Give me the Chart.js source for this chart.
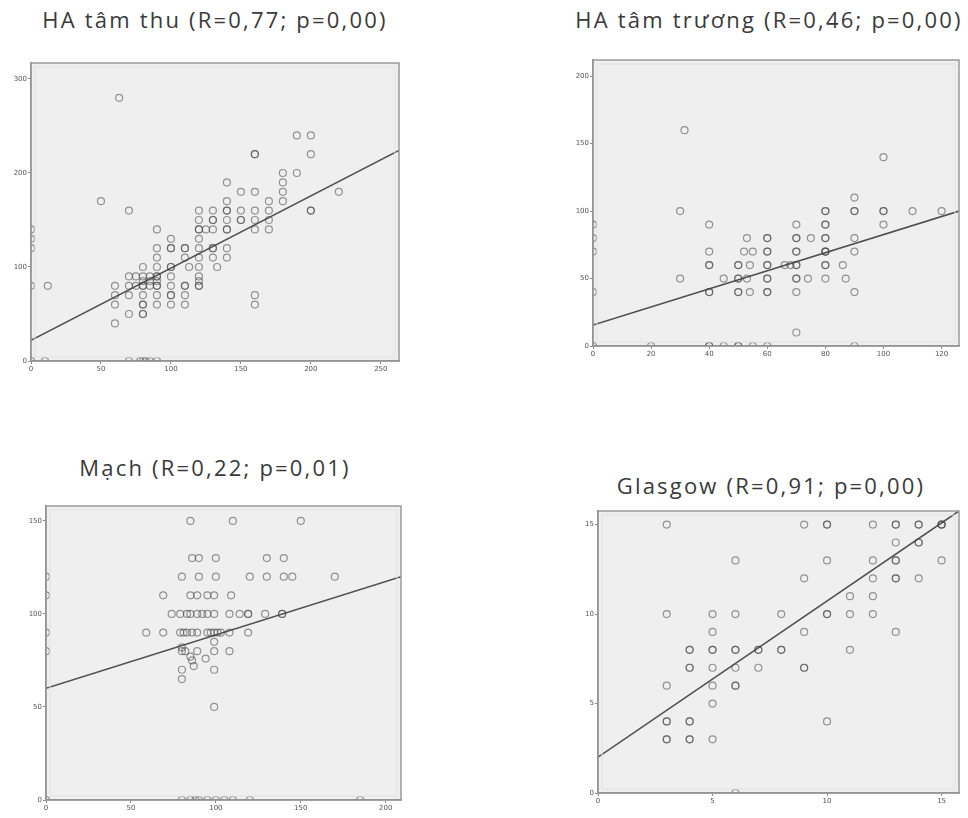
<!DOCTYPE html>
<html>
<head>
<meta charset="utf-8">
<script src="https://cdn.jsdelivr.net/npm/chart.js@4"></script>
<style>
  body { margin: 0; background: #fff; width: 968px; height: 818px; position: relative; overflow: hidden; font-family: "Open Sans", sans-serif; }
  .title { position: absolute; transform: translate(-50%, -50%); white-space: nowrap; font-size: 22px; color: #3a3a3a; letter-spacing: 2.2px; }
  canvas { position: absolute; }
</style>
</head>
<body>
<div id="root"></div>
<script>
// HA tâm thu
const sbpTitle = "HA tâm thu (R=0,77; p=0,00)";
const sbpPoints = [
  [63,280],[190,240],[200,240],[160,220],[160,220],[200,220],[180,200],[190,200],[50,170],[70,160],
  [140,190],[150,180],[160,180],[180,190],[180,180],[180,170],[220,180],[200,160],[200,160],
  [170,170],[170,160],[170,150],[170,140],[160,160],[160,150],[160,140],[150,160],[150,150],[150,150],
  [140,170],[140,160],[140,160],[140,150],[140,140],[140,140],[140,120],[140,110],
  [130,160],[130,150],[130,150],[130,140],[130,120],[130,120],[130,110],[133,100],
  [120,160],[120,150],[120,140],[120,140],[125,140],[120,130],[120,120],[120,110],[120,100],[120,90],[120,80],[120,80],[120,85],
  [110,120],[110,120],[110,110],[113,100],[110,80],[110,80],[110,70],[110,60],
  [100,130],[100,120],[100,120],[100,100],[100,100],[100,90],[100,80],[100,70],[100,70],[100,60],
  [90,140],[90,120],[90,110],[90,100],[90,90],[90,90],[90,85],[90,80],[90,80],[90,70],[90,60],
  [85,90],[85,85],[85,80],[80,100],[80,90],[80,85],[80,80],[80,80],[80,70],[80,60],[80,60],[80,50],[80,50],
  [70,90],[70,80],[70,70],[75,90],[75,80],[70,50],[60,80],[60,70],[60,60],[60,40],[12,80],
  [160,70],[160,60],[0,140],[0,130],[0,120],[0,80],
  [0,0],[10,0],[70,0],[78,0],[80,0],[82,0],[85,0],[90,0]
];
const sbpLine = [[0,22],[263,224]];
const sbpXTicks = [0,50,100,150,200,250];
const sbpYTicks = [0,100,200,300];
const sbpRange = [263,317];

// HA tâm trương
const dbpTitle = "HA tâm trương (R=0,46; p=0,00)";
const dbpPoints = [
  [31.5,160],[100,140],[90,110],[30,100],[80,100],[80,100],[90,100],[90,100],[100,100],[100,100],[110,100],[120,100],
  [40,90],[70,90],[80,90],[80,90],[100,90],
  [53,80],[60,80],[60,80],[70,80],[70,80],[75,80],[80,80],[80,80],[90,80],
  [40,70],[52,70],[55,70],[60,70],[60,70],[70,70],[70,70],[80,70],[80,70],[80,70],[90,70],
  [40,60],[40,60],[50,60],[50,60],[54,60],[60,60],[60,60],[66,60],[68,60],[70,60],[70,60],[80,60],[80,60],[86,60],
  [30,50],[45,50],[50,50],[50,50],[53,50],[60,50],[60,50],[70,50],[70,50],[74,50],[80,50],[87,50],
  [40,40],[40,40],[50,40],[50,40],[54,40],[60,40],[60,40],[70,40],[90,40],
  [70,10],[0,90],[0,80],[0,70],[0,40],
  [0,0],[20,0],[40,0],[40,0],[45,0],[50,0],[50,0],[55,0],[60,0],[90,0]
];
const dbpLine = [[0,15.5],[126,100]];
const dbpXTicks = [0,20,40,60,80,100,120];
const dbpYTicks = [0,50,100,150,200];
const dbpRange = [126,212];

// Mạch
const pulseTitle = "Mạch (R=0,22; p=0,01)";
const pulsePoints = [
  [85,150],[110,150],[150,150],
  [86,130],[90,130],[100,130],[130,130],[140,130],
  [80,120],[90,120],[100,120],[120,120],[130,120],[140,120],[145,120],[170,120],
  [69,110],[85,110],[89,110],[95,110],[99,110],[109,110],
  [74,100],[79,100],[83,100],[85,100],[89,100],[92,100],[95,100],[99,100],[108,100],[114,100],[119,100],[119,100],[129,100],[139,100],[139,100],
  [59,90],[69,90],[79,90],[81,90],[83,90],[86,90],[89,90],[95,90],[97,90],[99,90],[101,90],[103,90],[108,90],[119,90],
  [99,85],[80,82],[80,80],[82,80],[89,80],[99,80],[108,80],
  [85,77],[86,75],[94,76],[87,72],[80,70],[99,70],[80,65],[99,50],
  [0,120],[0,110],[0,90],[0,80],[0,0],
  [80,0],[85,0],[88,0],[90,0],[95,0],[100,0],[105,0],[110,0],[120,0],[185,0]
];
const pulseLine = [[0,60],[209,120]];
const pulseXTicks = [0,50,100,150,200];
const pulseYTicks = [0,50,100,150];
const pulseRange = [209,158];

// Glasgow
const gcsTitle = "Glasgow (R=0,91; p=0,00)";
const gcsPoints = [
  [3,15],[9,15],[10,15],[10,15],[12,15],[13,15],[13,15],[14,15],[14,15],[15,15],[15,15],[15,15],
  [13,14],[14,14],[14,14],
  [6,13],[10,13],[12,13],[13,13],[13,13],[15,13],
  [9,12],[12,12],[13,12],[13,12],[14,12],
  [11,11],[12,11],
  [3,10],[5,10],[6,10],[8,10],[10,10],[10,10],[11,10],[12,10],
  [5,9],[9,9],[13,9],
  [4,8],[4,8],[5,8],[5,8],[6,8],[6,8],[7,8],[7,8],[8,8],[8,8],[11,8],
  [4,7],[4,7],[5,7],[6,7],[7,7],[9,7],[9,7],
  [3,6],[5,6],[6,6],[6,6],[5,5],
  [3,4],[3,4],[4,4],[4,4],[10,4],
  [3,3],[3,3],[4,3],[4,3],[5,3],[6,0]
];
const gcsLine = [[0,2],[15.76,15.76]];
const gcsXTicks = [0,5,10,15];
const gcsYTicks = [0,5,10,15];
const gcsRange = [15.76,15.76];

// plot boxes in page pixels: left, top, right, bottom; title centre
const layout = [
  { box: [31, 63, 399, 361], title: [215, 19] },
  { box: [593, 60, 959, 346], title: [769, 19] },
  { box: [46, 506, 401, 800], title: [215, 467] },
  { box: [598, 511, 959, 793], title: [771, 485] }
];

const panels = [
  { title: sbpTitle, points: sbpPoints, line: sbpLine, xt: sbpXTicks, yt: sbpYTicks, range: sbpRange },
  { title: dbpTitle, points: dbpPoints, line: dbpLine, xt: dbpXTicks, yt: dbpYTicks, range: dbpRange },
  { title: pulseTitle, points: pulsePoints, line: pulseLine, xt: pulseXTicks, yt: pulseYTicks, range: pulseRange },
  { title: gcsTitle, points: gcsPoints, line: gcsLine, xt: gcsXTicks, yt: gcsYTicks, range: gcsRange }
];

const YAXIS_W = 35, XAXIS_H = 22, PAD_T = 8, PAD_R = 6;

const plotFrame = {
  id: "plotFrame",
  beforeDraw(chart) {
    const a = chart.chartArea, c = chart.ctx;
    c.save();
    c.fillStyle = "#efefef";
    c.fillRect(a.left, a.top, a.right - a.left, a.bottom - a.top);
    c.restore();
  },
  afterDraw(chart) {
    const a = chart.chartArea, c = chart.ctx;
    c.save();
    c.strokeStyle = "#9a9a9a";
    c.lineWidth = 1.5;
    c.strokeRect(a.left, a.top, a.right - a.left, a.bottom - a.top);
    c.strokeStyle = "#e2e2e2";
    c.lineWidth = 1;
    c.strokeRect(a.left + 4, a.top + 4, a.right - a.left - 8, a.bottom - a.top - 8);
    c.restore();
  }
};

const root = document.getElementById("root");

panels.forEach((p, i) => {
  const [L, T, R, B] = layout[i].box;
  const t = document.createElement("div");
  t.className = "title";
  t.textContent = p.title;
  t.style.left = layout[i].title[0] + "px";
  t.style.top = layout[i].title[1] + "px";
  root.appendChild(t);

  const cv = document.createElement("canvas");
  const w = R - L + YAXIS_W + PAD_R, h = B - T + PAD_T + XAXIS_H;
  cv.width = w; cv.height = h;
  cv.style.left = (L - YAXIS_W) + "px";
  cv.style.top = (T - PAD_T) + "px";
  cv.style.width = w + "px";
  cv.style.height = h + "px";
  root.appendChild(cv);

  const tickFont = { family: "DejaVu Sans", size: 7 };
  new Chart(cv.getContext("2d"), {
    type: "scatter",
    data: {
      datasets: [
        {
          data: p.points.map(([x, y]) => ({ x, y })),
          pointRadius: 3.5,
          pointBorderWidth: 1.2,
          pointBackgroundColor: "rgba(0,0,0,0)",
          pointBorderColor: "rgba(70,70,70,0.55)",
          clip: 0
        },
        {
          type: "line",
          data: p.line.map(([x, y]) => ({ x, y })),
          borderColor: "#505050",
          borderWidth: 1.6,
          pointRadius: 0,
          fill: false
        }
      ]
    },
    options: {
      responsive: false,
      animation: false,
      events: [],
      layout: { padding: { top: PAD_T, right: PAD_R, left: 0, bottom: 0 } },
      plugins: { legend: { display: false }, tooltip: { enabled: false }, title: { display: false } },
      scales: {
        x: {
          type: "linear",
          min: 0,
          max: p.range[0],
          afterFit: s => { s.height = XAXIS_H; },
          afterBuildTicks: s => { s.ticks = p.xt.map(v => ({ value: v })); },
          ticks: { font: tickFont, color: "#555", padding: 1, maxRotation: 0 },
          grid: { display: true, drawOnChartArea: false, drawTicks: true, tickLength: 3, color: "#888" },
          border: { display: true, color: "#808080", width: 1.5 }
        },
        y: {
          type: "linear",
          min: 0,
          max: p.range[1],
          afterFit: s => { s.width = YAXIS_W; },
          afterBuildTicks: s => { s.ticks = p.yt.map(v => ({ value: v })); },
          ticks: { font: tickFont, color: "#555", padding: 1 },
          grid: { display: true, drawOnChartArea: false, drawTicks: true, tickLength: 3, color: "#888" },
          border: { display: true, color: "#808080", width: 1.5 }
        }
      }
    },
    plugins: [plotFrame]
  });
});
</script>
</body>
</html>
